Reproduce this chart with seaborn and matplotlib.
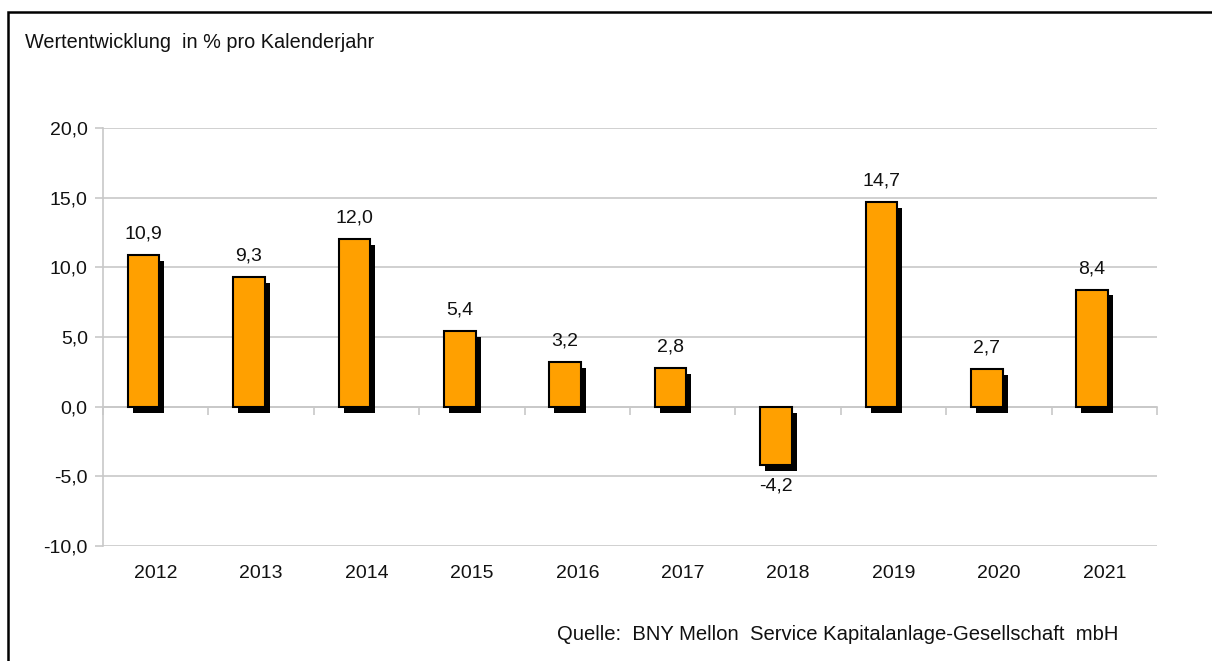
import pandas as pd
import seaborn as sns
import matplotlib.pyplot as plt
import matplotlib.patheffects as pe
from matplotlib.patches import Rectangle

# Daten
jahre = ["2012", "2013", "2014", "2015", "2016", "2017", "2018", "2019", "2020", "2021"]
werte = [10.9, 9.3, 12.0, 5.4, 3.2, 2.8, -4.2, 14.7, 2.7, 8.4]
y_ticks = [-10, -5, 0, 5, 10, 15, 20]

titel = "Wertentwicklung  in % pro Kalenderjahr"
quelle = "Quelle:  BNY Mellon  Service Kapitalanlage-Gesellschaft  mbH"

df = pd.DataFrame({"jahr": jahre, "wert": werte})

sns.set_theme(style="white")
plt.rcParams["font.family"] = ["Liberation Sans", "DejaVu Sans"]

fig = plt.figure(figsize=(12.12, 6.61), dpi=100)
ax = fig.add_axes([0.085, 0.174, 0.8696, 0.6326])

sns.barplot(data=df, x="jahr", y="wert", color="#FFA000", saturation=1,
            width=0.3, edgecolor="black", linewidth=1.5, ax=ax, zorder=3)

# Balken leicht nach links versetzt (wie im Excel-Original) + Schatten
for bar in ax.patches:
    bar.set_x(bar.get_x() - 0.115)
    bar.set_path_effects([pe.SimplePatchShadow(offset=(3.6, -4.3), shadow_rgbFace="black", alpha=1.0),
                          pe.Normal()])

# Werte-Beschriftung mit Dezimalkomma
labels = [f"{v:.1f}".replace(".", ",") for v in werte]
ax.bar_label(ax.containers[0], labels=labels, padding=9, fontsize=14, color="#111111")

ax.set_ylim(-10, 20)
ax.set_xlim(-0.5, len(jahre) - 0.5)
ax.set_yticks(y_ticks)
ax.set_yticklabels([f"{t:.1f}".replace(".", ",") for t in y_ticks], fontsize=14, color="#111111")
ax.yaxis.grid(True, color="#C8C8C8", linewidth=1.2, zorder=0)
ax.set_axisbelow(True)
ax.set_xlabel("")
ax.set_ylabel("")

for s in ["top", "right", "bottom"]:
    ax.spines[s].set_visible(False)
ax.spines["left"].set_color("#C8C8C8")
ax.spines["left"].set_linewidth(1.2)
ax.tick_params(axis="y", left=True, length=6, color="#C8C8C8", width=1.2, pad=5)
ax.tick_params(axis="x", bottom=False, labelsize=14, labelcolor="#111111", pad=8)

# Nulllinie mit Trennstrichen zwischen den Kategorien
null_pos = (0 - (-10)) / 30
sec = ax.secondary_xaxis(null_pos)
sec.spines["bottom"].set_color("#C8C8C8")
sec.spines["bottom"].set_linewidth(1.2)
sec.set_xticks([i - 0.5 for i in range(len(jahre) + 1)])
sec.tick_params(axis="x", length=6, color="#C8C8C8", width=1.2, labelbottom=False)

fig.text(25 / 1212, 1 - 42 / 661, titel, fontsize=14.3, color="#111111", va="center", ha="left")
fig.text(557 / 1212, 1 - 634 / 661, quelle, fontsize=14.6, color="#111111", va="center", ha="left")

# Rahmen (nur links und oben sichtbar)
fig.patches.append(Rectangle((8 / 1212, -0.5), 1.2, 0.5 + 1 - 12 / 661, transform=fig.transFigure,
                             fill=False, edgecolor="black", linewidth=1.8))

fig.savefig("out.png", dpi=100)
